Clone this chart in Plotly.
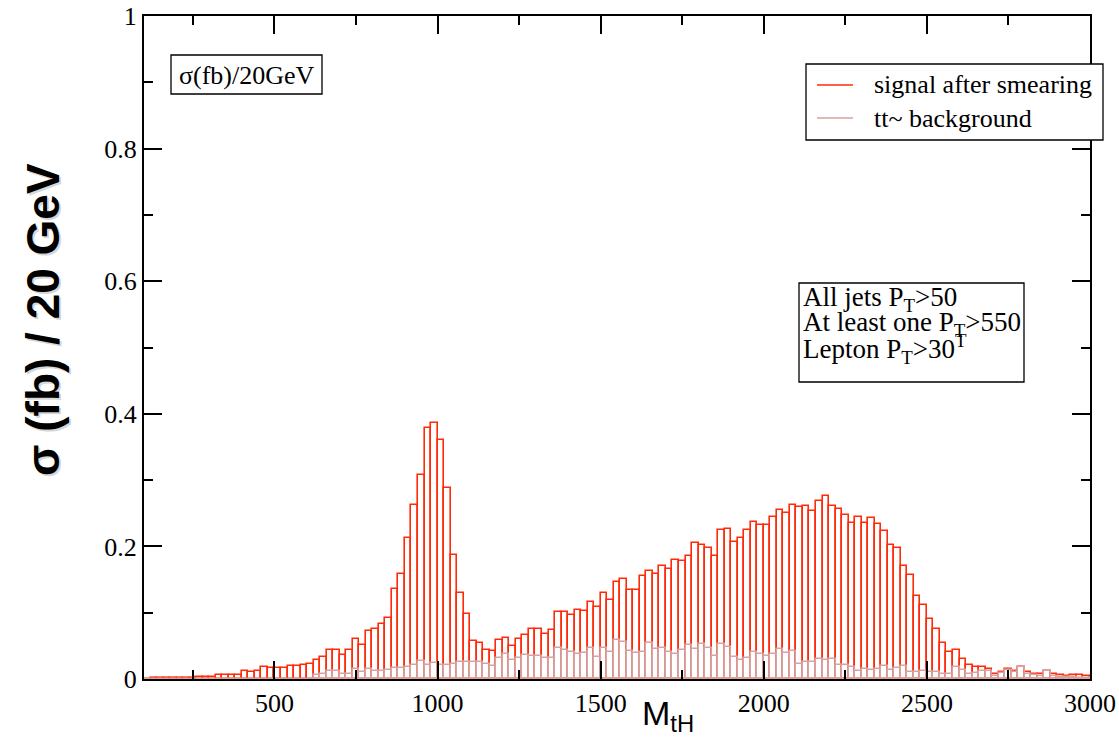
import numpy as np
import plotly.graph_objects as go

# ---- data (20 GeV bins from 100 to 3000 GeV) ----
bin_low = 100
bin_width = 20
signal = [
    0.0005, 0.001, 0.002, 0.002, 0.002, 0.002, 0.002, 0.002, 0.003, 0.003,
    0.003, 0.0055, 0.0055, 0.0055, 0.0065, 0.012, 0.0105, 0.0125, 0.0175, 0.0165,
    0.016, 0.016, 0.019, 0.019, 0.021, 0.023, 0.029, 0.033, 0.043, 0.043,
    0.036, 0.043, 0.061, 0.052, 0.073, 0.076, 0.083, 0.0915, 0.136, 0.158,
    0.213, 0.263, 0.308, 0.378, 0.386, 0.361, 0.288, 0.187, 0.130, 0.098,
    0.058, 0.055, 0.044, 0.042, 0.059, 0.062, 0.050, 0.060, 0.067, 0.076,
    0.076, 0.068, 0.074, 0.101, 0.101, 0.0965, 0.1035, 0.103, 0.116, 0.1086,
    0.129, 0.119, 0.146, 0.151, 0.135, 0.135, 0.155, 0.163, 0.159, 0.171,
    0.166, 0.180, 0.178, 0.186, 0.205, 0.202, 0.197, 0.185, 0.225, 0.227,
    0.206, 0.212, 0.225, 0.237, 0.232, 0.232, 0.245, 0.255, 0.251, 0.262,
    0.259, 0.261, 0.254, 0.269, 0.276, 0.261, 0.257, 0.248, 0.235, 0.245,
    0.236, 0.243, 0.234, 0.223, 0.202, 0.198, 0.171, 0.157, 0.125, 0.111,
    0.090, 0.076, 0.054, 0.040, 0.044, 0.030, 0.0216, 0.018, 0.018, 0.0156,
    0.0075, 0.0106, 0.015, 0.0126, 0.0176, 0.0106, 0.0075, 0.0075, 0.0126, 0.0075,
    0.0055, 0.0045, 0.006, 0.0065, 0.004,
]
background = [
    0, 0, 0, 0, 0, 0, 0, 0, 0, 0,
    0, 0, 0, 0, 0, 0, 0, 0, 0, 0,
    0, 0, 0, 0, 0, 0, 0.0055, 0.0075, 0.0126, 0.0126,
    0.007, 0.0075, 0.015, 0.010, 0.0156, 0.012, 0.0126, 0.014, 0.016, 0.017,
    0.018, 0.021, 0.027, 0.021, 0.024, 0.021, 0.021, 0.022, 0.026, 0.025,
    0.026, 0.026, 0.022, 0.020, 0.032, 0.038, 0.029, 0.031, 0.036, 0.035,
    0.034, 0.032, 0.032, 0.047, 0.043, 0.040, 0.038, 0.039, 0.047, 0.033,
    0.047, 0.040, 0.059, 0.056, 0.042, 0.039, 0.041, 0.054, 0.045, 0.047,
    0.040, 0.037, 0.044, 0.051, 0.045, 0.053, 0.047, 0.035, 0.053, 0.048,
    0.033, 0.028, 0.031, 0.041, 0.038, 0.034, 0.037, 0.045, 0.039, 0.042,
    0.023, 0.025, 0.025, 0.030, 0.029, 0.030, 0.021, 0.021, 0.0176, 0.0116,
    0.015, 0.014, 0.015, 0.020, 0.013, 0.017, 0.019, 0.010, 0.010, 0.012,
    0.010, 0.010, 0.0075, 0.0075, 0.018, 0.014, 0.0075, 0.009, 0.0126, 0.0126,
    0.005, 0.009, 0.014, 0.010, 0.0176, 0.0075, 0.006, 0.005, 0.0126, 0.004,
    0.003, 0.003, 0.003, 0.002, 0.002,
]
mass = bin_low + bin_width * (np.arange(len(signal)) + 0.5)

series_names = ["signal after smearing", "tt~ background"]
x_ticks = [500, 1000, 1500, 2000, 2500, 3000]
y_ticks = [0, 0.2, 0.4, 0.6, 0.8, 1]
cut_lines = ["All jets P<sub>T</sub>>50",
             "At least one P<sub>T</sub>>550",
             "Lepton P<sub>T</sub>>30<sup>T</sup>"]

RED = "#ff2a08"
PINK = "#d8a2a2"
SERIF = "Liberation Serif, Times New Roman, serif"
SANS = "Liberation Sans, Arial, sans-serif"

fig = go.Figure()
fig.add_trace(go.Bar(x=mass, y=signal, width=bin_width, name=series_names[0],
                     marker=dict(color="rgba(0,0,0,0)", line=dict(color=RED, width=1.6)),
                     showlegend=False))
fig.add_trace(go.Bar(x=mass, y=background, width=bin_width, name=series_names[1],
                     marker=dict(color="rgba(0,0,0,0)", line=dict(color=PINK, width=1.6)),
                     showlegend=False))

W, H = 1119, 737
L, R, T, B = 144, 29, 16, 58
pw, ph = W - L - R, H - T - B

def px(xp):
    return (xp - L) / pw

def py(yp):
    return (H - B - yp) / ph

shapes = []
annotations = []

# sigma box
shapes.append(dict(type="rect", xref="paper", yref="paper", x0=px(171), x1=px(322),
                   y0=py(94), y1=py(55), line=dict(color="black", width=1.3),
                   fillcolor="white", layer="above"))
annotations.append(dict(xref="paper", yref="paper", x=px(246.5), y=py(75),
                        text="σ(fb)/20GeV", showarrow=False, xanchor="center", yanchor="middle",
                        font=dict(family=SERIF, size=26, color="black")))

# legend box
shapes.append(dict(type="rect", xref="paper", yref="paper", x0=px(806), x1=px(1103),
                   y0=py(140), y1=py(64), line=dict(color="black", width=1.3),
                   fillcolor="white", layer="above"))
for i, (nm, col, yy) in enumerate([(series_names[0], RED, 85), (series_names[1], PINK, 118)]):
    shapes.append(dict(type="line", xref="paper", yref="paper", x0=px(817), x1=px(853),
                       y0=py(yy), y1=py(yy), line=dict(color=col, width=1.6), layer="above"))
    annotations.append(dict(xref="paper", yref="paper", x=px(872), y=py(yy),
                            text=nm, showarrow=False, xanchor="left", yanchor="middle",
                            font=dict(family=SERIF, size=26, color="black")))

# cuts box
shapes.append(dict(type="rect", xref="paper", yref="paper", x0=px(799), x1=px(1024),
                   y0=py(382), y1=py(283), line=dict(color="black", width=1.3),
                   fillcolor="white", layer="above"))
for line_txt, yy in zip(cut_lines, [299, 324, 349]):
    annotations.append(dict(xref="paper", yref="paper", x=px(801), y=py(yy),
                            text=line_txt, showarrow=False, xanchor="left", yanchor="middle",
                            font=dict(family=SERIF, size=27, color="black")))

# axis titles
ylab = "<b>σ (fb) / 20 GeV</b>"
annotations.append(dict(xref="paper", yref="paper", x=px(45), y=py(322), text=ylab,
                        textangle=-90, showarrow=False, xanchor="center", yanchor="middle",
                        font=dict(family=SANS, size=46, color="rgba(0,0,0,0.18)")))
annotations.append(dict(xref="paper", yref="paper", x=px(43), y=py(320), text=ylab,
                        textangle=-90, showarrow=False, xanchor="center", yanchor="middle",
                        font=dict(family=SANS, size=46, color="black")))
annotations.append(dict(xref="paper", yref="paper", x=px(668), y=py(715), text="M<sub>tH</sub>",
                        showarrow=False, xanchor="center", yanchor="middle",
                        font=dict(family=SANS, size=34, color="black")))

axis_common = dict(showline=True, linecolor="black", linewidth=2, mirror="allticks",
                   ticks="inside", ticklen=18, tickwidth=1.5, tickcolor="black",
                   showgrid=False, zeroline=False, automargin=False,
                   tickfont=dict(family=SERIF, size=26, color="black"))

fig.update_layout(
    width=W, height=H,
    margin=dict(l=L, r=R, t=T, b=B),
    paper_bgcolor="white", plot_bgcolor="white",
    barmode="overlay", bargap=0,
    xaxis=dict(range=[100, 3000], tickvals=x_ticks,
               minor=dict(ticks="inside", ticklen=9, tickwidth=1.5, tickcolor="black",
                          tickvals=[250, 750, 1250, 1750, 2250, 2750]),
               **axis_common),
    yaxis=dict(range=[0, 1], tickvals=y_ticks, ticktext=["0", "0.2", "0.4", "0.6", "0.8", "1"],
               minor=dict(ticks="inside", ticklen=9, tickwidth=1.5, tickcolor="black",
                          tickvals=[0.1, 0.3, 0.5, 0.7, 0.9]),
               **axis_common),
    shapes=shapes,
    annotations=annotations,
    showlegend=False,
)

fig.write_html("out.html")
